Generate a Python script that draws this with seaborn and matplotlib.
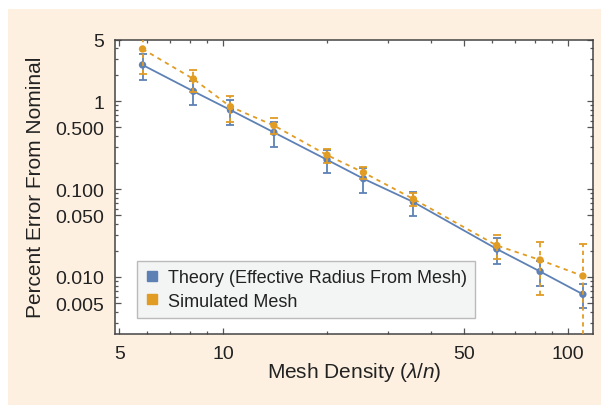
import numpy as np
import pandas as pd
import matplotlib
matplotlib.use("Agg")
import matplotlib.pyplot as plt
import seaborn as sns
from matplotlib.lines import Line2D
from matplotlib.patches import Rectangle
from matplotlib.ticker import FixedLocator, NullFormatter, FixedFormatter

# ---- data ----
mesh_density = [5.84, 8.2, 10.5, 14.03, 20.0, 25.5, 35.6, 62.1, 82.9, 110.3]
theory = [2.57, 1.29, 0.79, 0.44, 0.215, 0.131, 0.0711, 0.0208, 0.01155, 0.00636]
theory_err = [0.85, 0.40, 0.25, 0.14, 0.063, 0.042, 0.022, 0.0067, 0.0036, 0.0019]
simulated = [3.90, 1.78, 0.861, 0.527, 0.243, 0.154, 0.0769, 0.0228, 0.0156, 0.01026]
simulated_err = [1.87, 0.50, 0.28, 0.11, 0.045, 0.024, 0.0125, 0.0069, 0.0094, 0.0133]

x_ticks = [5, 10, 50, 100]
x_tick_labels = ["5", "10", "50", "100"]
y_ticks = [0.005, 0.01, 0.05, 0.1, 0.5, 1, 5]
y_tick_labels = ["0.005", "0.010", "0.050", "0.100", "0.500", "1", "5"]

series_names = ["Theory (Effective Radius From Mesh)", "Simulated Mesh"]
BLUE = "#5E81B5"
ORANGE = "#E19C24"
TEXT = "#222222"

plt.rcParams["font.family"] = ["Liberation Sans", "DejaVu Sans"]
plt.rcParams["mathtext.fontset"] = "custom"
plt.rcParams["mathtext.rm"] = "Liberation Sans"
plt.rcParams["mathtext.it"] = "Liberation Sans:italic"

W, H = 601, 406
fig = plt.figure(figsize=(W / 100, H / 100), dpi=100)
fig.patch.set_facecolor("white")
fig.patches.append(Rectangle((8 / W, 0), 1 - 8 / W, 1 - 10 / H, transform=fig.transFigure,
                             facecolor="#FDF0E1", edgecolor="none", zorder=-10))

left, right, top, bottom = 115, 593, 40.5, 335
ax = fig.add_axes([left / W, 1 - bottom / H, (right - left) / W, (bottom - top) / H])
ax.set_facecolor("white")

df = pd.DataFrame({"x": mesh_density, "theory": theory, "sim": simulated})

ax.set_xscale("log")
ax.set_yscale("log")

# theory
sns.lineplot(data=df, x="x", y="theory", ax=ax, color=BLUE, lw=1.3, zorder=2)
ax.errorbar(mesh_density, theory, yerr=theory_err, fmt="none", ecolor=BLUE,
            elinewidth=1.3, capsize=2.6, capthick=1.3, zorder=3)
sns.scatterplot(data=df, x="x", y="theory", ax=ax, color=BLUE, s=28,
                edgecolor="none", zorder=4)

# simulated
sns.lineplot(data=df, x="x", y="sim", ax=ax, color=ORANGE, lw=1.3, zorder=5,
             linestyle=(0, (2.4, 2.4)))
eb = ax.errorbar(mesh_density, simulated, yerr=simulated_err, fmt="none", ecolor=ORANGE,
                 elinewidth=1.3, capsize=2.6, capthick=1.3, zorder=6)
eb[2][0].set_linestyle((0, (2.4, 2.0)))
sns.scatterplot(data=df, x="x", y="sim", ax=ax, color=ORANGE, s=28,
                edgecolor="none", zorder=7)

ax.set_xlim(4.86, 118)
ax.set_ylim(0.00225, 5)

# ticks
ax.xaxis.set_major_locator(FixedLocator(x_ticks))
ax.xaxis.set_major_formatter(FixedFormatter(x_tick_labels))
xminor = [6, 7, 8, 9, 20, 30, 40, 60, 70, 80, 90]
ax.xaxis.set_minor_locator(FixedLocator(xminor))
ax.xaxis.set_minor_formatter(NullFormatter())
ax.yaxis.set_major_locator(FixedLocator(y_ticks))
ax.yaxis.set_major_formatter(FixedFormatter(y_tick_labels))
yminor = [0.003, 0.004, 0.006, 0.007, 0.008, 0.009, 0.02, 0.03, 0.04, 0.06, 0.07, 0.08, 0.09,
          0.2, 0.3, 0.4, 0.6, 0.7, 0.8, 0.9, 2, 3, 4]
ax.yaxis.set_minor_locator(FixedLocator(yminor))
ax.yaxis.set_minor_formatter(NullFormatter())
ax.tick_params(which="both", direction="in", top=True, right=True, color="#555555",
               labelsize=14, labelcolor=TEXT, width=0.9, pad=8)
ax.tick_params(which="major", length=4.5)
ax.tick_params(which="minor", length=2.5)
for s in ax.spines.values():
    s.set_color("#444444")
    s.set_linewidth(1.1)

ax.set_xlabel(r"Mesh Density ($\lambda$/$n$)", fontsize=15, color=TEXT, va="center")
ax.xaxis.set_label_coords(0.5, -0.128)
ax.set_ylabel("Percent Error From Nominal", fontsize=15, color=TEXT, va="center")
ax.yaxis.set_label_coords(-0.167, 0.5)

handles = [Line2D([], [], marker="s", ls="none", color=BLUE, markersize=7.5),
           Line2D([], [], marker="s", ls="none", color=ORANGE, markersize=7.5)]
leg = ax.legend(handles, series_names, loc="lower left", bbox_to_anchor=(0.045, 0.055),
                fontsize=13.0, frameon=True, fancybox=False, framealpha=1,
                handlelength=0.8, handletextpad=0.5, borderpad=0.45, labelspacing=0.35,
                borderaxespad=0)
leg.get_frame().set_facecolor("#F3F4F4")
leg.get_frame().set_edgecolor("#BBBBBB")
leg.get_frame().set_linewidth(1.0)
for t in leg.get_texts():
    t.set_color(TEXT)

fig.savefig("out.png", dpi=100)
